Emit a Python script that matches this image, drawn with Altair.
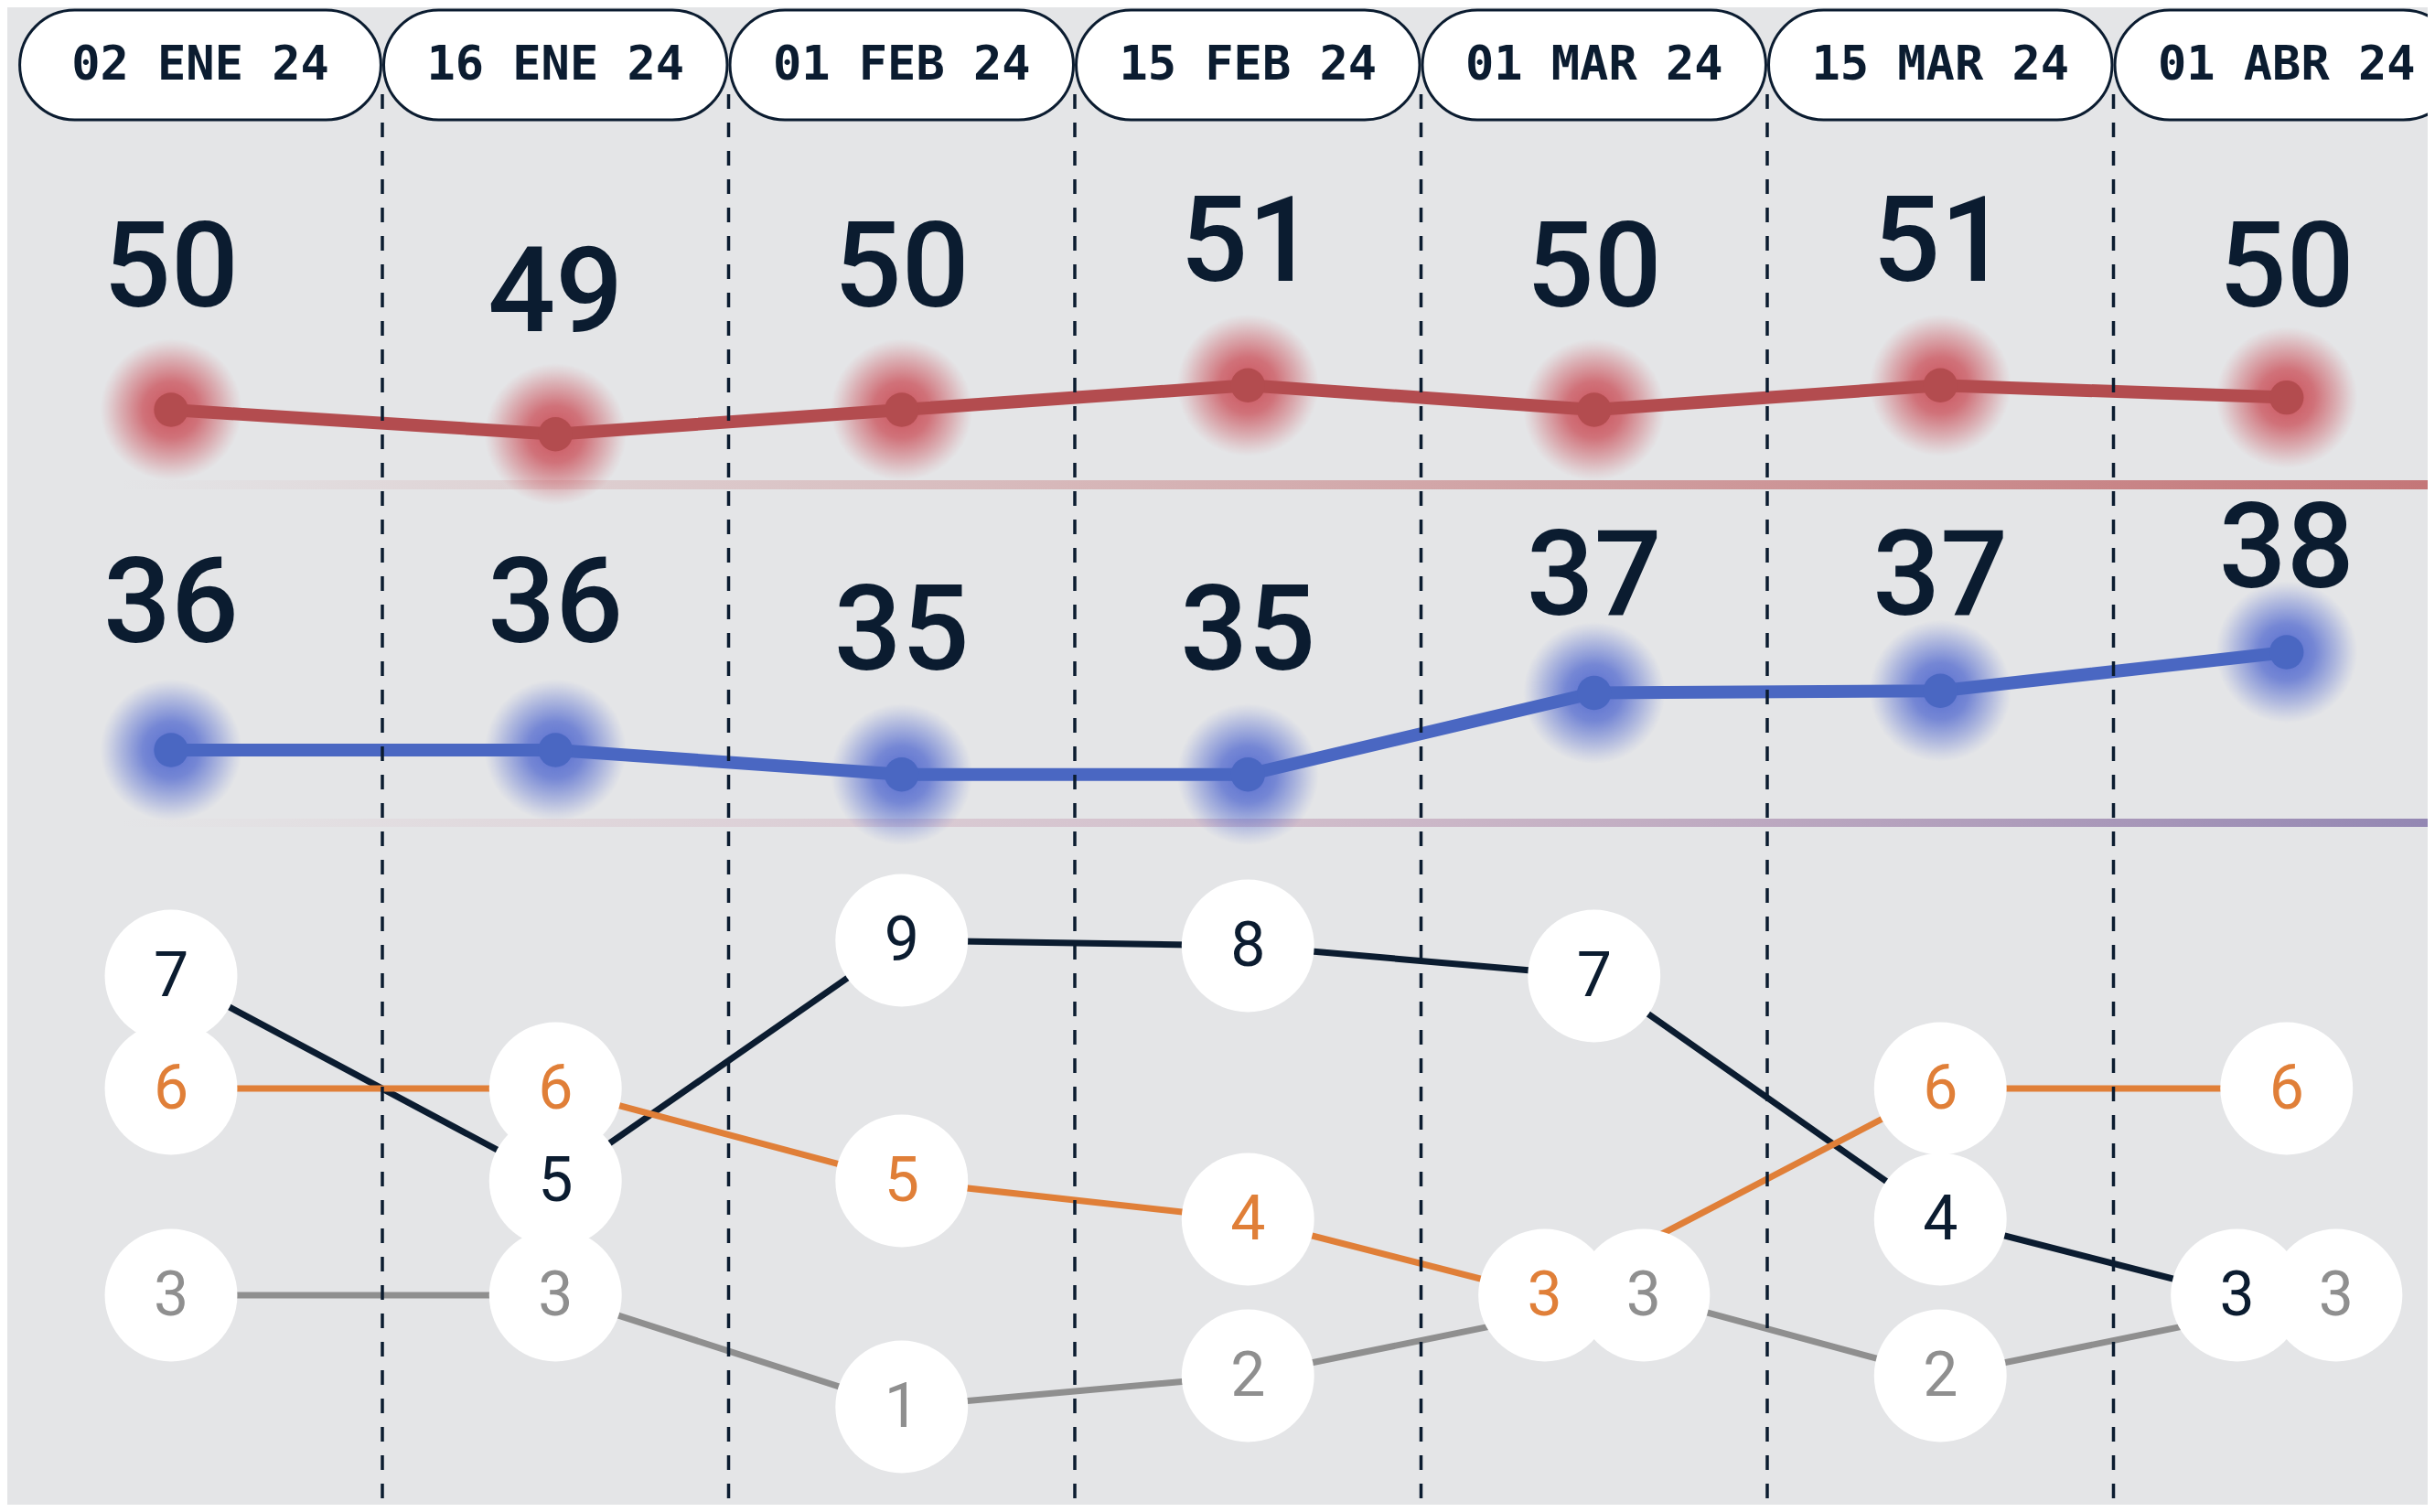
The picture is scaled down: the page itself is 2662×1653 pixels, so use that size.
import altair as alt
import pandas as pd

# ---- data ----
fechas = ["02 ENE 24", "16 ENE 24", "01 FEB 24", "15 FEB 24", "01 MAR 24", "15 MAR 24", "01 ABR 24"]
serie_roja = [50.0, 49.4, 50.0, 50.6, 50.0, 50.6, 50.3]
serie_azul = [36.0, 36.0, 35.4, 35.4, 37.4, 37.45, 38.4]
series_rango = ["Serie A", "Serie B", "Serie C"]
rango_a = [7, 5, 9, 8, 7, 4, 3]
rango_b = [6, 6, 5, 4, 3, 6, 6]
rango_c = [3, 3, 1, 2, 3, 2, 3]

NAVY = "#0B1C30"
ORANGE = "#E07F38"
GRAY = "#8F8F8F"
RED = "#B34C4F"
BLUE = "#4A67C2"
BG = "#E4E5E7"

W, H = 2646, 1637

idx = list(range(len(fechas)))
main = pd.DataFrame({"i": idx, "fecha": fechas, "roja": serie_roja, "azul": serie_azul})

# rank rows with a simple horizontal dodge for equal values in one column
rank_rows = []
valores = [rango_a, rango_b, rango_c]
for i in idx:
    col = [(s, vals[i]) for s, vals in zip(series_rango, valores)]
    for s, v in col:
        same = [t for t, w in col if w == v]
        n = len(same)
        k = same.index(s)
        off = (k - (n - 1) / 2) * 0.286 if n > 1 else 0.0
        rank_rows.append({"i": i, "serie": s, "r": v, "xd": i + off})
rank = pd.DataFrame(rank_rows)

bounds = pd.DataFrame({"b": [i + 0.5 for i in idx[:-1]]})

# column scale (pills, dividers) and point scale (data marks)
xs_cols = alt.Scale(domain=[-0.5, 0.5, 6.5], range=[12, 410, 2681], nice=False, zero=False)
xs_pts = alt.Scale(domain=[-0.5, 0, 0.5, 6.5], range=[12, 179, 410, 2681], nice=False, zero=False)
XP = lambda f: alt.X(f, scale=xs_pts, axis=None)
XC = lambda f: alt.X(f, scale=xs_cols, axis=None)

y_red = alt.Scale(domain=[45, 55], range=[663, 217], nice=False, zero=False)
y_blue = alt.Scale(domain=[31, 41], range=[1035, 589], nice=False, zero=False)
# label scales keyed to the rounded (displayed) value
y_red_lab = alt.Scale(domain=[45, 55], range=[423, 152], nice=False, zero=False)
y_blue_lab = alt.Scale(domain=[31, 41], range=[805, 505], nice=False, zero=False)
y_rank = alt.Scale(domain=[1, 2, 3, 4, 5, 6, 7, 8, 9],
                   range=[1530, 1496, 1408, 1325, 1283, 1182, 1059, 1026, 1020])
color_rank = alt.Color("serie:N", scale=alt.Scale(domain=series_rango, range=[NAVY, ORANGE, GRAY]), legend=None)

def halo(rgb):
    r, g, b = rgb
    return alt.RadialGradient(
        gradient="radial", x1=0.5, y1=0.5, r1=0, x2=0.5, y2=0.5, r2=0.5,
        stops=[
            alt.GradientStop(color=f"rgba({r},{g},{b},0.9)", offset=0),
            alt.GradientStop(color=f"rgba({r},{g},{b},0.7)", offset=0.4),
            alt.GradientStop(color=f"rgba({r},{g},{b},0.35)", offset=0.7),
            alt.GradientStop(color=f"rgba({r},{g},{b},0.1)", offset=0.9),
            alt.GradientStop(color=f"rgba({r},{g},{b},0)", offset=1),
        ])

base = alt.Chart(main)
rb = alt.Chart(rank)

sep_red = base.transform_filter("datum.i == 0").mark_rect(
    fill=alt.LinearGradient(gradient="linear", x1=0, y1=0, x2=1, y2=0, stops=[
        alt.GradientStop(color="rgba(196,118,120,0)", offset=0),
        alt.GradientStop(color="rgba(196,118,120,1)", offset=1)])
).encode(x=alt.value(122), x2=alt.value(W), y=alt.value(517), y2=alt.value(527))

sep_blue = base.transform_filter("datum.i == 0").mark_rect(
    fill=alt.LinearGradient(gradient="linear", x1=0, y1=0, x2=1, y2=0, stops=[
        alt.GradientStop(color="rgba(215,160,172,0)", offset=0),
        alt.GradientStop(color="rgba(190,150,175,0.5)", offset=0.5),
        alt.GradientStop(color="rgba(147,135,179,1)", offset=1)])
).encode(x=alt.value(122), x2=alt.value(W), y=alt.value(887), y2=alt.value(896))

halo_red = base.mark_circle(fill=halo((200, 65, 75)), opacity=1, size=24000).encode(
    x=XP("i:Q"), y=alt.Y("roja:Q", scale=y_red, axis=None))
halo_blue = base.mark_circle(fill=halo((70, 95, 205)), opacity=1, size=24000).encode(
    x=XP("i:Q"), y=alt.Y("azul:Q", scale=y_blue, axis=None))

line_red = base.mark_line(color=RED, strokeWidth=14).encode(
    x=XP("i:Q"), y=alt.Y("roja:Q", scale=y_red, axis=None))
line_blue = base.mark_line(color=BLUE, strokeWidth=14).encode(
    x=XP("i:Q"), y=alt.Y("azul:Q", scale=y_blue, axis=None))

rank_lines = rb.mark_line(strokeWidth=7).encode(
    x=XP("xd:Q"), y=alt.Y("r:Q", scale=y_rank, axis=None), color=color_rank, detail="serie:N",
    order="i:Q")

dashed = alt.Chart(bounds).mark_rule(color=NAVY, strokeWidth=3.5, strokeDash=[16, 15]).encode(
    x=XC("b:Q"), y=alt.value(95), y2=alt.value(H))

dot_red = base.mark_circle(color=RED, opacity=1, size=1400).encode(
    x=XP("i:Q"), y=alt.Y("roja:Q", scale=y_red, axis=None))
dot_blue = base.mark_circle(color=BLUE, opacity=1, size=1400).encode(
    x=XP("i:Q"), y=alt.Y("azul:Q", scale=y_blue, axis=None))

circles = rb.mark_circle(color="white", opacity=1, size=21000).encode(
    x=XP("xd:Q"), y=alt.Y("r:Q", scale=y_rank, axis=None))
rank_text = rb.mark_text(font="Roboto", fontSize=68, baseline="middle", align="center", dy=2).encode(
    x=XP("xd:Q"), y=alt.Y("r:Q", scale=y_rank, axis=None), color=color_rank, text=alt.Text("r:Q", format="d"))

lab_red = base.transform_calculate(rr="round(datum.roja)").mark_text(
    font="Roboto", fontWeight=500, fontSize=130, color=NAVY, baseline="middle", align="center").encode(
    x=XP("i:Q"), y=alt.Y("rr:Q", scale=y_red_lab, axis=None), text=alt.Text("rr:Q", format=".0f"))
lab_blue = base.transform_calculate(ra="round(datum.azul)").mark_text(
    font="Roboto", fontWeight=500, fontSize=130, color=NAVY, baseline="middle", align="center").encode(
    x=XP("i:Q"), y=alt.Y("ra:Q", scale=y_blue_lab, axis=None), text=alt.Text("ra:Q", format=".0f"))

pills = base.transform_calculate(x0="datum.i - 0.496", x1="datum.i + 0.496").mark_rect(
    fill="white", stroke=NAVY, strokeWidth=3, cornerRadius=60).encode(
    x=XC("x0:Q"), x2="x1:Q", y=alt.value(3), y2=alt.value(123))
pill_text = base.mark_text(font="DejaVu Sans Mono", fontWeight="bold", fontSize=52, color=NAVY,
                           baseline="middle", align="center").encode(
    x=XC("i:Q"), y=alt.value(63), text="fecha:N")

chart = alt.layer(
    sep_red, sep_blue, halo_red, halo_blue, line_red, line_blue, rank_lines, dashed,
    dot_red, dot_blue, circles, rank_text, lab_red, lab_blue, pills, pill_text
).resolve_scale(x="independent", y="independent").properties(
    width=W, height=H, padding=0, autosize=alt.AutoSizeParams(type="none"),
    background=BG
).configure_view(stroke=None)

chart.save("out.html", embed_options={"renderer": "svg", "actions": False})
